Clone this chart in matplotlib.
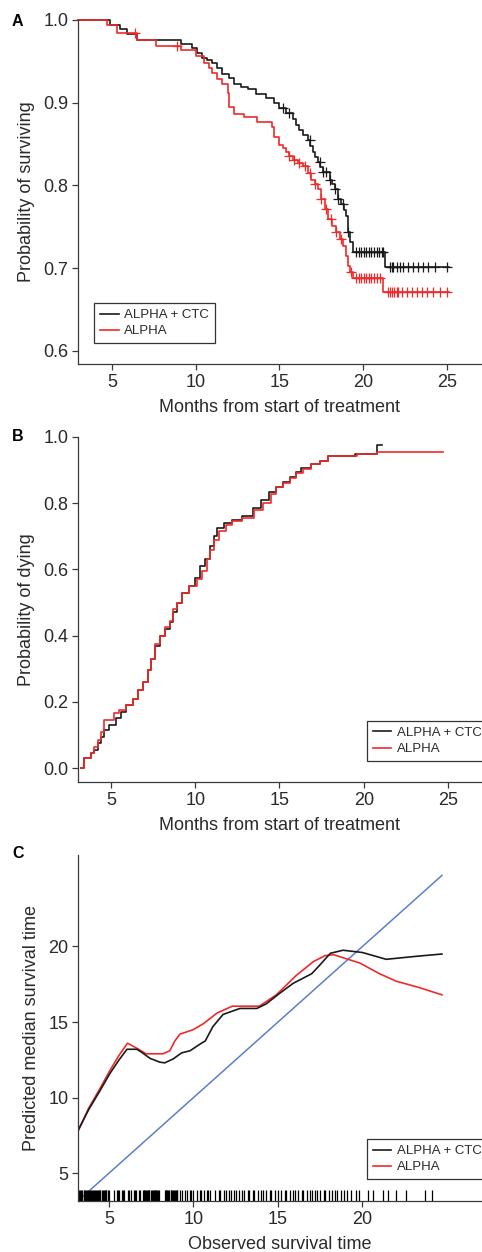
import matplotlib
matplotlib.use("Agg")
import matplotlib.pyplot as plt
import numpy as np

plt.rcParams['font.family'] = ['Liberation Sans', 'DejaVu Sans']

# ---- Panel A: Kaplan-Meier survival (step times, survival after step) ----
a_ctc_t = [3.0, 4.9, 5.5, 5.9, 6.5, 9.1, 9.8, 10.1, 10.4, 10.7, 10.95, 11.3, 11.6,
           12.0, 12.3, 12.7, 13.1, 13.6, 14.2, 14.7, 15.0, 15.4, 15.8, 16.0, 16.2,
           16.4, 16.7, 16.85, 17.0, 17.15, 17.3, 17.45, 17.6, 18.0, 18.15, 18.3, 18.5,
           18.7, 18.85, 19.0, 19.1, 19.2, 19.4, 21.3, 25.1]
a_ctc_s = [1.0, 0.994, 0.989, 0.983, 0.976, 0.971, 0.966, 0.960, 0.954, 0.951, 0.948,
           0.942, 0.934, 0.930, 0.922, 0.919, 0.916, 0.910, 0.906, 0.900, 0.894, 0.888,
           0.880, 0.873, 0.867, 0.861, 0.855, 0.848, 0.840, 0.834, 0.828, 0.822, 0.816,
           0.807, 0.801, 0.795, 0.783, 0.777, 0.770, 0.763, 0.743, 0.731, 0.719, 0.701,
           0.701]
a_ctc_cens = [15.2, 15.6, 16.8, 17.4, 17.6, 17.8, 18.0, 18.3, 18.5, 18.8, 19.1, 19.6,
              19.75, 19.9, 20.05, 20.2, 20.35, 20.5, 20.65, 20.8, 20.95, 21.1, 21.2,
              21.6, 21.7, 21.8, 22.0, 22.2, 22.4, 22.7, 23.0, 23.3, 23.6, 23.9, 24.3,
              25.0]

a_alpha_t = [3.0, 4.7, 5.3, 6.5, 7.6, 9.1, 10.0, 10.5, 10.8, 11.0, 11.3, 11.6, 11.9,
             12.0, 12.3, 12.9, 13.65, 14.55, 14.7, 15.0, 15.2, 15.4, 15.6, 15.8, 16.1,
             16.4, 16.7, 16.9, 17.1, 17.3, 17.5, 17.7, 17.9, 18.15, 18.4, 18.6, 18.8,
             19.0, 19.1, 19.2, 19.4, 21.2, 25.1]
a_alpha_s = [1.0, 0.994, 0.984, 0.976, 0.969, 0.964, 0.956, 0.948, 0.942, 0.936, 0.929,
             0.922, 0.912, 0.895, 0.886, 0.882, 0.876, 0.870, 0.859, 0.849, 0.845, 0.840,
             0.835, 0.831, 0.827, 0.823, 0.815, 0.807, 0.801, 0.795, 0.783, 0.771, 0.759,
             0.751, 0.743, 0.735, 0.727, 0.715, 0.702, 0.695, 0.688, 0.671, 0.671]
a_alpha_cens = [6.4, 8.9, 15.6, 15.9, 16.2, 16.5, 16.8, 17.1, 17.5, 17.8, 18.1, 18.4,
                18.7, 19.3, 19.6, 19.75, 19.9, 20.05, 20.2, 20.35, 20.5, 20.65, 20.8,
                21.0, 21.5, 21.6, 21.7, 21.85, 22.0, 22.1, 22.3, 22.6, 22.9, 23.2, 23.5,
                23.8, 24.2, 24.6, 25.0]

# ---- Panel B: probability of dying ----
b_ctc_t = [3.2, 3.4, 3.8, 4.0, 4.2, 4.4, 4.6, 4.9, 5.3, 5.6, 5.9, 6.3, 6.6, 6.9, 7.2,
           7.4, 7.6, 7.9, 8.2, 8.5, 8.7, 8.9, 9.2, 9.6, 10.0, 10.3, 10.6, 10.9, 11.1,
           11.3, 11.7, 12.2, 12.8, 13.4, 13.9, 14.4, 14.8, 15.2, 15.6, 16.0, 16.3, 16.9,
           17.4, 17.9, 19.5, 20.8, 21.1]
b_ctc_p = [0.0, 0.03, 0.045, 0.055, 0.075, 0.095, 0.115, 0.13, 0.15, 0.17, 0.19, 0.21,
           0.235, 0.26, 0.295, 0.33, 0.37, 0.40, 0.42, 0.44, 0.47, 0.50, 0.53, 0.55,
           0.575, 0.61, 0.63, 0.67, 0.70, 0.725, 0.74, 0.75, 0.76, 0.785, 0.81, 0.835,
           0.85, 0.865, 0.88, 0.895, 0.905, 0.918, 0.928, 0.943, 0.949, 0.975, 0.975]

b_alpha_t = [3.2, 3.4, 3.8, 4.0, 4.2, 4.4, 4.6, 5.2, 5.5, 5.9, 6.3, 6.6, 6.9, 7.2, 7.4,
             7.6, 7.9, 8.2, 8.5, 8.7, 8.9, 9.2, 9.6, 10.1, 10.4, 10.7, 10.9, 11.1, 11.4,
             11.8, 12.2, 12.8, 13.5, 14.0, 14.5, 14.8, 15.2, 15.6, 16.0, 16.4, 16.9,
             17.4, 17.9, 19.6, 20.8, 24.7]
b_alpha_p = [0.0, 0.03, 0.045, 0.063, 0.085, 0.108, 0.145, 0.166, 0.175, 0.19, 0.21,
             0.235, 0.26, 0.295, 0.33, 0.376, 0.40, 0.425, 0.445, 0.48, 0.50, 0.53, 0.55,
             0.572, 0.596, 0.63, 0.66, 0.69, 0.717, 0.735, 0.745, 0.755, 0.778, 0.80,
             0.828, 0.85, 0.862, 0.876, 0.89, 0.904, 0.918, 0.928, 0.943, 0.949, 0.955,
             0.955]

# ---- Panel C: predicted median vs observed survival ----
c_ctc_x = [3.17, 3.8, 4.47, 5.06, 5.6, 6.07, 6.66, 7.0, 7.43, 8.0, 8.3, 8.8, 9.3, 9.8,
           10.4, 10.7, 11.15, 11.75, 12.75, 13.75, 14.3, 15.1, 15.9, 17.0, 17.5, 18.1,
           18.85, 20.0, 21.4, 23.2, 24.7]
c_ctc_y = [7.83, 9.2, 10.46, 11.6, 12.5, 13.2, 13.2, 12.95, 12.6, 12.35, 12.3, 12.56,
           12.96, 13.1, 13.55, 13.75, 14.7, 15.5, 15.9, 15.9, 16.2, 16.9, 17.56, 18.2,
           18.8, 19.55, 19.75, 19.6, 19.15, 19.35, 19.5]
c_alpha_x = [3.17, 3.8, 4.47, 5.06, 5.6, 6.1, 6.6, 7.2, 8.2, 8.6, 8.9, 9.2, 10.0, 10.6,
             11.4, 12.3, 13.1, 13.9, 14.9, 16.1, 17.1, 17.8, 18.3, 19.85, 21.0, 22.0,
             23.3, 24.7]
c_alpha_y = [7.76, 9.3, 10.6, 11.8, 12.8, 13.6, 13.3, 12.9, 12.9, 13.1, 13.75, 14.2,
             14.5, 14.9, 15.6, 16.05, 16.05, 16.05, 16.8, 18.1, 19.0, 19.4, 19.45, 18.9,
             18.2, 17.7, 17.3, 16.8]
c_diag = [3.17, 24.7]
c_rug = [3.2, 3.25, 3.3, 3.35, 3.4, 3.5, 3.55, 3.6, 3.65, 3.7, 3.75, 3.85,
         3.9, 3.95, 4.0, 4.05, 4.1, 4.15, 4.25, 4.3, 4.35, 4.4, 4.45, 4.5, 4.6, 4.65,
         4.7, 4.75, 4.8, 4.85, 4.95, 5.0, 5.3, 5.5, 5.55, 5.6, 5.8, 5.85,
         5.9, 6.1, 6.2, 6.3, 6.5, 6.55, 6.6, 6.8, 6.85, 7.0, 7.05, 7.1, 7.15, 7.2, 7.25,
         7.3, 7.35, 7.4, 7.5, 7.55, 7.6, 7.65, 7.7, 7.75, 7.8, 7.85, 7.9, 7.95,
         8.3, 8.35, 8.4, 8.45, 8.5, 8.55, 8.65, 8.7, 8.75, 8.8, 8.85, 8.9, 8.95,
         9.0, 9.05, 9.2, 9.35, 9.5, 9.6, 9.8, 9.85, 10.0, 10.2, 10.4, 10.45, 10.6, 10.8,
         10.85, 11.0, 11.3, 11.5, 11.6, 11.8, 11.9, 12.1, 12.2, 12.4, 12.5, 12.7, 12.9,
         13.0, 13.2, 13.3, 13.5, 13.6, 13.8, 14.0, 14.1, 14.3, 14.5, 14.6, 14.8, 15.0,
         15.2, 15.4, 15.5, 15.7, 15.9, 16.0, 16.2, 16.4, 16.5, 16.7, 16.9, 17.0, 17.2,
         17.3, 17.5, 17.7, 17.8, 18.0, 18.2, 18.4, 18.5, 18.7, 18.9, 19.1, 19.3, 19.6,
         19.8, 20.3, 20.6, 21.2, 21.5, 22.0, 22.6, 23.7, 24.1]

labels = ['ALPHA + CTC', 'ALPHA']
BLACK = '#1a1a1a'
RED = '#f02a2a'
BLUE = '#5b80c8'
TXT = '#2a2a2a'


def style(ax):
    for side in ['top', 'right']:
        ax.spines[side].set_visible(False)
    for side in ['left', 'bottom']:
        ax.spines[side].set_linewidth(0.9)
        ax.spines[side].set_color('#3a3a3a')
    ax.tick_params(direction='out', length=4.5, width=0.9, color='#3a3a3a',
                   labelsize=13, labelcolor=TXT, pad=2.5)
    return ax


def legend(ax, handles, x, y):
    leg = ax.legend(handles, labels, loc='upper left', bbox_to_anchor=(x, y),
                    borderaxespad=0, fontsize=9.5, fancybox=False, framealpha=1,
                    edgecolor='#333333', handlelength=1.4, handletextpad=0.4,
                    labelspacing=0.3, borderpad=0.45)
    leg.get_frame().set_linewidth(0.9)
    for t in leg.get_texts():
        t.set_color(TXT)


def surv_at(t, times, vals):
    idx = np.searchsorted(times, t, side='right') - 1
    return np.asarray(vals)[idx]


fig = plt.figure(figsize=(4.82, 12.52), dpi=100)

# Panel A
ax = style(fig.add_axes([0.1618, 0.7093, 0.8382, 0.2748]))
h1, = ax.step(a_ctc_t, a_ctc_s, where='post', color=BLACK, lw=1.2, clip_on=False)
h2, = ax.step(a_alpha_t, a_alpha_s, where='post', color=RED, lw=1.2, clip_on=False)
ax.plot(a_ctc_cens, surv_at(a_ctc_cens, a_ctc_t, a_ctc_s), '+', color=BLACK,
        ms=6.5, mew=0.9)
ax.plot(a_alpha_cens, surv_at(a_alpha_cens, a_alpha_t, a_alpha_s), '+', color=RED,
        ms=6.5, mew=0.9)
ax.set_xlim(2.97, 27.1)
ax.set_ylim(0.584, 1.0)
ax.set_xticks([5, 10, 15, 20, 25])
ax.set_yticks([0.6, 0.7, 0.8, 0.9, 1.0])
ax.set_yticklabels(['0.6', '0.7', '0.8', '0.9', '1.0'])
ax.set_xlabel('Months from start of treatment', fontsize=13, color=TXT, labelpad=6)
ax.set_ylabel('Probability of surviving', fontsize=13, color=TXT, labelpad=6)
legend(ax, [h1, h2], 0.04, 0.177)
fig.text(0.037, 0.983, 'A', fontsize=11.5, fontweight='bold', ha='center', va='center')

# Panel B
ax = style(fig.add_axes([0.1618, 0.3754, 0.8382, 0.2756]))
h1, = ax.step(b_ctc_t, b_ctc_p, where='post', color=BLACK, lw=1.2)
h2, = ax.step(b_alpha_t, b_alpha_p, where='post', color=RED, lw=1.2)
ax.set_xlim(3.04, 27.02)
ax.set_ylim(-0.042, 1.0)
ax.set_xticks([5, 10, 15, 20, 25])
ax.set_yticks([0.0, 0.2, 0.4, 0.6, 0.8, 1.0])
ax.set_yticklabels(['0.0', '0.2', '0.4', '0.6', '0.8', '1.0'])
ax.set_xlabel('Months from start of treatment', fontsize=13, color=TXT, labelpad=6)
ax.set_ylabel('Probability of dying', fontsize=13, color=TXT, labelpad=6)
legend(ax, [h1, h2], 0.715, 0.177)
fig.text(0.037, 0.651, 'B', fontsize=11.5, fontweight='bold', ha='center', va='center')

# Panel C
ax = style(fig.add_axes([0.1618, 0.0407, 0.8382, 0.2764]))
ax.plot(c_diag, c_diag, color=BLUE, lw=1.1)
h2, = ax.plot(c_alpha_x, c_alpha_y, color=RED, lw=1.2)
h1, = ax.plot(c_ctc_x, c_ctc_y, color=BLACK, lw=1.2)
ax.vlines(c_rug, 0, 0.033, transform=ax.get_xaxis_transform(), color='black', lw=0.9)
ax.set_xlim(3.17, 27.07)
ax.set_ylim(3.16, 26.05)
ax.set_xticks([5, 10, 15, 20])
ax.set_yticks([5, 10, 15, 20])
ax.set_xlabel('Observed survival time', fontsize=13, color=TXT, labelpad=6)
ax.set_ylabel('Predicted median survival time', fontsize=13, color=TXT, labelpad=6)
legend(ax, [h1, h2], 0.715, 0.179)
fig.text(0.037, 0.318, 'C', fontsize=11.5, fontweight='bold', ha='center', va='center')

fig.savefig('out.png', dpi=100)
